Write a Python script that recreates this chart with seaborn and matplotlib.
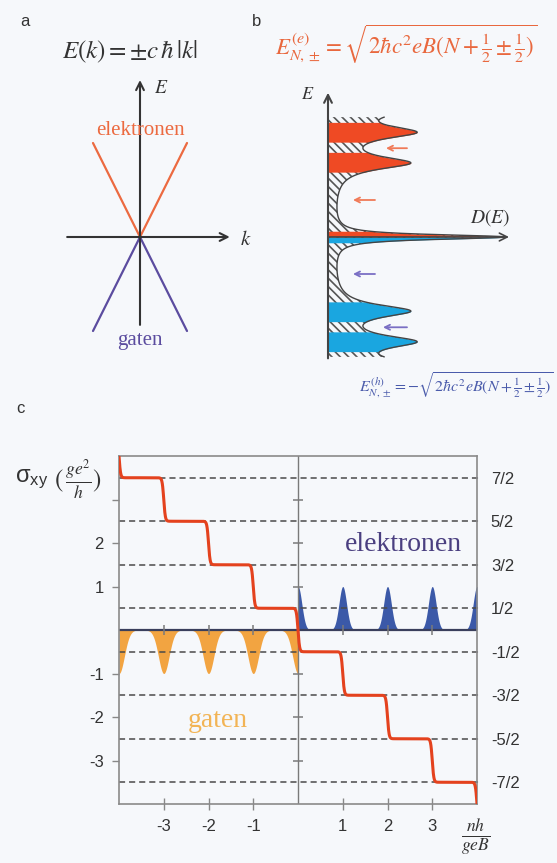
import numpy as np
import matplotlib
matplotlib.use("Agg")
import matplotlib.pyplot as plt
import seaborn as sns

sns.set_style("white")
plt.rcParams['font.family'] = ['Liberation Sans', 'DejaVu Sans']
plt.rcParams['mathtext.fontset'] = 'stix'
plt.rcParams['hatch.linewidth'] = 1.2
plt.rcParams['hatch.color'] = '#555555'

BG = '#f6f8fb'
W, H = 557, 863

# ---------------- data ----------------
# a: Dirac cone
cone_k = [-1.0, 0.0, 1.0]
cone_elec = [2.0, 0.0, 2.0]
cone_hole = [-2.0, 0.0, -2.0]

# b: Landau levels -> density of states
ll_energy = [-2.0, -1.732, -1.414, -1.0, 0.0, 1.0, 1.414, 1.732, 2.0]
ll_height = [73, 73, 73, 73, 171, 73, 73, 73, 73]
ll_gamma = [0.10, 0.10, 0.10, 0.10, 0.04, 0.10, 0.10, 0.10, 0.10]
dos_floor = 3.0
dos_erange = (-1.62, 1.62)
elec_bands = [(0.0, 0.08), (0.875, 1.145), (1.28, 1.55)]
hole_bands = [(-0.08, 0.0), (-1.145, -0.875), (-1.55, -1.28)]
elec_arrows = [(1.2, 79, 58), (0.5, 47, 25)]      # (E, D from, D to)
hole_arrows = [(-0.5, 47, 25), (-1.22, 79, 55)]

# c: Hall conductivity
step_x = [-4, -3, -2, -1, 0, 1, 2, 3, 4]
step_levels = [4.5, 3.5, 2.5, 1.5, 0.5, -0.5, -1.5, -2.5, -3.5, -4.5]
elec_peak_x = [0, 1, 2, 3, 4]
hole_peak_x = [-4, -3, -2, -1, 0]
half_levels = [-3.5, -2.5, -1.5, -0.5, 0.5, 1.5, 2.5, 3.5]
half_labels = ['-7/2', '-5/2', '-3/2', '-1/2', '1/2', '3/2', '5/2', '7/2']
left_ticks = [-3, -2, -1, 1, 2, 3]
left_labels = ['-3', '-2', '-1', '1', '2', '']
bottom_ticks = [-3, -2, -1, 1, 2, 3]
bottom_labels = ['-3', '-2', '-1', '1', '2', '3']

ORANGE = '#ec6a40'
PURPLE = '#5b4c9f'
RED_FILL = '#ef4a24'
CYAN_FILL = '#1aa6e0'
STEP_RED = '#e4421e'
ELEC_BLUE = '#3b59a8'
HOLE_ORANGE = '#f2a441'
INK = '#333333'

fig = plt.figure(figsize=(W / 100, H / 100), dpi=100, facecolor=BG)


def px_axes(l, t, r, b):
    ax = fig.add_axes([l / W, 1 - b / H, (r - l) / W, (b - t) / H])
    ax.set_facecolor('none')
    return ax


def schematic_axes(box, origin, sx, sy):
    l, t, r, b = box
    ax = px_axes(l, t, r, b)
    ax.set_xlim((l - origin[0]) / sx, (r - origin[0]) / sx)
    ax.set_ylim((origin[1] - b) / sy, (origin[1] - t) / sy)
    ax.axis('off')
    return ax


def ftext(x, y, s, **kw):
    fig.text(x / W, 1 - y / H, s, **kw)


def arrow(ax, start, end, color, lw=1.5, ms=14):
    ax.annotate('', xy=end, xytext=start,
                arrowprops=dict(arrowstyle='->', color=color, lw=lw,
                                mutation_scale=ms, shrinkA=0, shrinkB=0))


# ---------------- panel a ----------------
axa = schematic_axes((60, 70, 255, 360), (140, 237), 47, 47)
sns.lineplot(x=cone_k, y=cone_elec, ax=axa, color=ORANGE, lw=1.6,
             estimator=None, sort=False)
sns.lineplot(x=cone_k, y=cone_hole, ax=axa, color=PURPLE, lw=1.6,
             estimator=None, sort=False)
arrow(axa, (-1.55, 0), (1.91, 0), INK)
arrow(axa, (0, -1.87), (0, 3.34), INK)
axa.text(0.3, 3.17, r'$E$', fontsize=14, color=INK, ha='left', va='center')
axa.text(2.12, -0.06, r'$k$', fontsize=15, color=INK, ha='left', va='center')
axa.text(0, 2.26, 'elektronen', family='Liberation Serif', fontsize=15,
         color=ORANGE, ha='center', va='center')
axa.text(0, -2.2, 'gaten', family='Liberation Serif', fontsize=15,
         color=PURPLE, ha='center', va='center')

# ---------------- panel b ----------------
axb = schematic_axes((290, 80, 545, 372), (328, 237), 1, 74)
E = np.linspace(dos_erange[0], dos_erange[1], 1600)
D = dos_floor + sum(h * g ** 2 / ((E - e0) ** 2 + g ** 2)
                    for e0, h, g in zip(ll_energy, ll_height, ll_gamma))
axb.fill_betweenx(E, 0, D, facecolor='none', hatch='\\\\\\\\',
                  edgecolor='#555555', linewidth=0)
for lo, hi in elec_bands:
    m = (E >= lo) & (E <= hi)
    axb.fill_betweenx(E[m], 0, D[m], color=RED_FILL, lw=0)
for lo, hi in hole_bands:
    m = (E >= lo) & (E <= hi)
    axb.fill_betweenx(E[m], 0, D[m], color=CYAN_FILL, lw=0)
sns.lineplot(x=D, y=E, ax=axb, color='#444444', lw=1.0,
             estimator=None, sort=False)
arrow(axb, (0, -1.64), (0, 1.95), '#444444')
arrow(axb, (0, 0), (181, 0), '#444444', lw=1.2)
axb.text(-20, 1.92, r'$E$', fontsize=13, color=INK, ha='center', va='center')
axb.text(162, 0.26, r'$D(E)$', fontsize=14, color=INK, ha='center', va='center')
for e, d0, d1 in elec_arrows:
    arrow(axb, (d0, e), (d1, e), '#f07a58', lw=1.3, ms=9)
for e, d0, d1 in hole_arrows:
    arrow(axb, (d0, e), (d1, e), '#7a6fc4', lw=1.3, ms=9)

# formulas and panel letters
ftext(130, 52, r'$E(k) = \pm c\,\hbar\,|k|$', fontsize=18, color=INK,
      ha='center', va='center')
ftext(406, 44, r'$E^{(e)}_{N,\pm} = \sqrt{2\hbar c^2 eB(N+\frac{1}{2}\pm\frac{1}{2})}$',
      fontsize=16.5, color='#e9683e', ha='center', va='center')
ftext(456, 385, r'$E^{(h)}_{N,\pm} = -\sqrt{2\hbar c^2 eB(N+\frac{1}{2}\pm\frac{1}{2})}$',
      fontsize=11.5, color='#4a5bab', ha='center', va='center')
ftext(25, 22, 'a', fontsize=12, color=INK, ha='center', va='center')
ftext(257, 22, 'b', fontsize=12, color=INK, ha='center', va='center')
ftext(20, 408, 'c', fontsize=12, color=INK, ha='center', va='center')

# ---------------- panel c ----------------
axc = px_axes(119, 456, 477, 804)
x = np.linspace(-4, 4, 2401)
sigma = step_levels[0] + sum(
    (step_levels[i + 1] - step_levels[i]) * 0.5 * (1 + np.tanh((x - s) / 0.035))
    for i, s in enumerate(step_x))
xr = x[x >= 0]
xl = x[x <= 0]
blue = sum(np.exp(-(xr - p) ** 2 / (2 * 0.085 ** 2)) for p in elec_peak_x)
orange = -sum(np.exp(-(xl - p) ** 2 / (2 * 0.12 ** 2)) for p in hole_peak_x)

axc.fill_between(xl, orange, 0, color=HOLE_ORANGE, lw=0)
axc.fill_between(xr, 0, blue, color=ELEC_BLUE, lw=0)
for lvl in half_levels:
    axc.axhline(lvl, xmin=0, xmax=1.012, ls='--', dashes=(4, 2.6), lw=1.1,
                color='#4a4a4a', clip_on=False, zorder=1)
axc.axhline(0, color='#3a3f5c', lw=1.6, zorder=2)
axc.axvline(0, color='#7a7a7a', lw=1.0, zorder=2)
axc.plot([0] * len(left_ticks), left_ticks, ls='none', marker='_', ms=7,
         mew=1.1, color='#7a7a7a')
axc.plot(bottom_ticks, [0] * len(bottom_ticks), ls='none', marker='|', ms=7,
         mew=1.1, color='#7a7a7a')
sns.lineplot(x=x, y=sigma, ax=axc, color=STEP_RED, lw=2.2, zorder=5,
             estimator=None)
axc.set_xlim(-4, 4)
axc.set_ylim(-4, 4)
for s in axc.spines.values():
    s.set_color('#8a8a8a')
    s.set_linewidth(1.2)
axc.set_yticks(left_ticks, left_labels)
axc.set_xticks(bottom_ticks, bottom_labels)
axc.tick_params(axis='y', left=True, direction='out', length=5, width=1,
                color='#888888', labelsize=12, labelcolor=INK, pad=6)
axc.tick_params(axis='x', bottom=True, direction='inout', length=8, width=1,
                color='#888888', labelsize=12, labelcolor=INK, pad=7)
axr = axc.twinx()
axr.set_ylim(-4, 4)
axr.set_yticks(half_levels, half_labels)
axr.tick_params(axis='y', right=True, length=0, pad=10, labelsize=12,
                labelcolor=INK)
for s in axr.spines.values():
    s.set_visible(False)

axc.text(2.36, 1.97, 'elektronen', family='Liberation Serif', fontsize=20,
         color='#4a3f80', ha='center', va='center')
axc.text(-1.8, -2.09, 'gaten', family='Liberation Serif', fontsize=20,
         color='#f2b455', ha='center', va='center')

ftext(15, 479, r'$\mathregular{σ_{xy}}$', fontsize=17, color=INK,
      ha='left', va='center', family='Liberation Sans')
ftext(54, 479, r'$(\,\frac{ge^2}{h})$', fontsize=18, color=INK,
      ha='left', va='center')
ftext(476, 838, r'$\frac{nh}{geB}$', fontsize=18, color=INK,
      ha='center', va='center')

fig.savefig('out.png', dpi=100, facecolor=BG)
